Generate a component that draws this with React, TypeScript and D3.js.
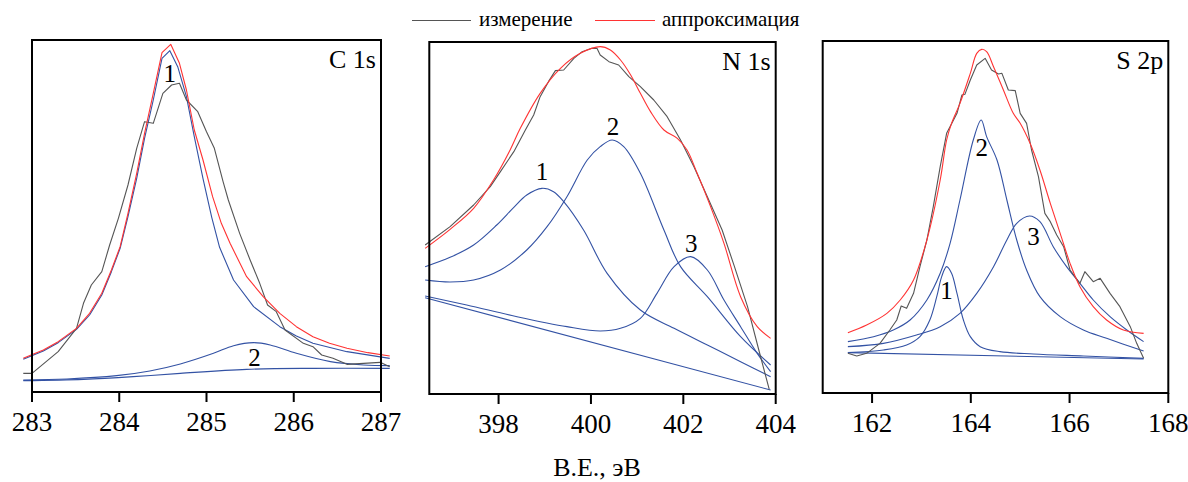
import { useEffect, useRef } from "react";
import * as d3 from "d3";

type Pt = [number, number];

const legendLabels = ["измерение", "аппроксимация"];
const axisTitle = "B.E., эВ";
const panelTitles = ["C 1s", "N 1s", "S 2p"];

// C 1s
const c1sTicks = [283, 284, 285, 286, 287];
const c1sMeasured: Pt[] = [
  [282.9, 5.6], [283.0, 5.6], [283.3, 12.1], [283.51, 19.1], [283.59, 26.6], [283.68, 32.1],
  [283.8, 36.1], [283.89, 44.1], [283.99, 52.1], [284.1, 62.1], [284.2, 73.1], [284.29, 81.1],
  [284.39, 80.6], [284.5, 89.6], [284.6, 92.1], [284.69, 92.6], [284.77, 87.6], [284.9, 84.1],
  [285.0, 78.1], [285.09, 73.1], [285.19, 63.1], [285.25, 57.6], [285.38, 47.6], [285.5, 39.6],
  [285.61, 32.6], [285.7, 26.1], [285.8, 24.1], [285.9, 18.6], [286.11, 14.6], [286.22, 13.6],
  [286.32, 11.1], [286.45, 10.1], [286.61, 8.3], [286.99, 8.9], [287.1, 7.6],
];
const c1sFit: Pt[] = [
  [282.9, 10.1], [283.13, 12.6], [283.3, 15.1], [283.51, 19.1], [283.66, 23.6], [283.8, 29.6],
  [283.91, 36.6], [284.01, 43.6], [284.1, 53.6], [284.2, 65.6], [284.29, 77.6], [284.39, 89.6],
  [284.49, 101.8], [284.59, 104.3], [284.69, 98.6], [284.77, 90.6], [284.86, 78.6], [284.96, 69.6],
  [285.07, 58.6], [285.17, 50.6], [285.27, 44.6], [285.46, 34.6], [285.65, 28.6], [285.84, 23.6],
  [286.03, 19.6], [286.22, 16.6], [286.41, 14.6], [286.61, 13.1], [286.85, 11.8], [287.1, 10.8],
];
const c1sPeak1: Pt[] = [
  [282.9, 9.8], [283.13, 12.3], [283.3, 14.8], [283.51, 18.8], [283.66, 23.1], [283.8, 29.1],
  [283.91, 36.1], [284.01, 43.1], [284.1, 52.6], [284.2, 64.1], [284.29, 76.1], [284.39, 87.6],
  [284.49, 100.1], [284.58, 102.4], [284.67, 97.6], [284.77, 88.6], [284.86, 76.6], [284.96, 64.0],
  [285.06, 52.4], [285.15, 43.4], [285.31, 33.6], [285.54, 25.6], [285.84, 19.6], [286.03, 16.8],
  [286.22, 14.6], [286.61, 12.1], [287.1, 10.1],
];
const c1sPeak2: Pt[] = [
  [282.9, 3.6], [283.4, 3.9], [283.97, 4.9], [284.35, 6.3], [284.7, 8.4], [285.08, 11.6],
  [285.31, 13.9], [285.54, 14.8], [285.73, 14.1], [286.03, 11.6], [286.42, 9.1], [286.8, 8.1],
  [287.1, 7.9],
];
const c1sBackground: Pt[] = [
  [282.9, 3.4], [283.59, 3.8], [284.16, 4.6], [284.7, 5.6], [285.46, 6.8], [286.22, 7.1],
  [287.1, 7.1],
];
const c1sLabels: [string, number, number][] = [["1", 284.58, 93.0], ["2", 285.55, 7.9]];

// N 1s
const n1sTicks = [398, 400, 402, 404];
const n1sMeasured: Pt[] = [
  [396.41, 44.7], [396.95, 50.2], [397.46, 56.7], [397.82, 62.2], [398.04, 66.7], [398.33, 72.7],
  [398.58, 79.2], [398.76, 83.7], [398.9, 89.2], [399.08, 93.7], [399.23, 97.0], [399.41, 97.2],
  [399.63, 100.7], [399.81, 102.7], [400.02, 103.7], [400.13, 103.7], [400.2, 101.7], [400.39, 99.7],
  [400.6, 98.7], [400.82, 95.2], [401.07, 92.2], [401.36, 88.2], [401.65, 83.2], [401.94, 76.2],
  [402.23, 68.2], [402.52, 59.2], [402.84, 49.2], [403.1, 38.5], [403.39, 26.2], [403.64, 12.9],
  [403.86, 1.4],
];
const n1sFit: Pt[] = [
  [396.41, 43.7], [396.95, 49.4], [397.46, 55.7], [397.89, 64.2], [398.25, 73.2], [398.47, 79.7],
  [398.9, 90.2], [399.34, 97.7], [399.77, 102.2], [400.2, 104.2], [400.42, 103.2], [400.64, 100.2],
  [400.86, 95.7], [401.07, 90.2], [401.29, 84.7], [401.58, 79.2], [401.87, 76.7], [402.08, 73.2],
  [402.3, 66.2], [402.59, 56.2], [402.88, 45.2], [403.24, 29.2], [403.6, 20.2], [403.89, 16.7],
];
const n1sPeak1: Pt[] = [
  [396.41, 38.2], [396.95, 41.0], [397.46, 44.7], [397.96, 50.7], [398.33, 56.0], [398.61, 59.7],
  [398.94, 61.7], [399.19, 60.7], [399.41, 57.7], [399.84, 49.2], [400.35, 36.2], [401.07, 25.2],
  [401.8, 19.7], [402.52, 14.7], [403.24, 9.7], [403.89, 5.2],
];
const n1sPeak2: Pt[] = [
  [396.41, 34.2], [396.95, 33.6], [397.46, 34.2], [398.04, 37.2], [398.61, 43.2], [399.05, 50.2],
  [399.48, 59.2], [399.92, 70.2], [400.2, 74.2], [400.46, 76.2], [400.71, 74.2], [401.07, 66.2],
  [401.58, 49.2], [401.94, 38.2], [402.52, 29.2], [403.24, 17.2], [403.89, 8.7],
];
const n1sPeak3: Pt[] = [
  [396.41, 29.4], [397.31, 26.7], [398.4, 23.2], [399.48, 20.2], [400.2, 18.9], [400.64, 19.7],
  [401.07, 22.7], [401.43, 30.2], [401.8, 38.2], [402.16, 41.2], [402.52, 37.2], [402.88, 28.2],
  [403.24, 20.2], [403.6, 12.2], [403.89, 6.7],
];
const n1sBackground: Pt[] = [[396.41, 28.9], [403.89, 1.2]];
const n1sLabels: [string, number, number][] = [
  ["1", 398.94, 64.2], ["2", 400.48, 77.7], ["3", 402.17, 42.7],
];

// S 2p
const s2pTicks = [162, 164, 166, 168];
const s2pMeasured: Pt[] = [
  [161.51, 11.9], [161.69, 11.1], [161.89, 11.9], [162.16, 14.9], [162.36, 18.9], [162.5, 21.9],
  [162.59, 26.1], [162.7, 25.4], [162.84, 29.9], [162.97, 37.9], [163.11, 45.9], [163.24, 55.9],
  [163.38, 67.9], [163.51, 77.9], [163.65, 81.9], [163.72, 83.9], [163.82, 89.4], [163.88, 89.6],
  [163.99, 93.9], [164.12, 98.4], [164.29, 100.4], [164.42, 96.9], [164.56, 95.7], [164.63, 95.9],
  [164.76, 90.9], [164.9, 90.7], [165.0, 83.9], [165.13, 80.9], [165.23, 72.9], [165.37, 64.9],
  [165.5, 53.9], [165.61, 51.4], [165.74, 47.4], [165.88, 43.9], [166.01, 36.9], [166.21, 32.9],
  [166.31, 36.4], [166.48, 33.4], [166.62, 34.4], [166.82, 29.9], [167.02, 25.9], [167.23, 19.9],
  [167.36, 14.9], [167.5, 10.4],
];
const s2pFit: Pt[] = [
  [161.51, 18.1], [161.89, 20.4], [162.3, 23.9], [162.57, 27.9], [162.84, 33.9], [163.11, 45.9],
  [163.38, 63.9], [163.51, 75.9], [163.61, 80.9], [163.78, 86.9], [163.99, 95.9], [164.12, 101.9],
  [164.22, 103.1], [164.32, 102.4], [164.46, 97.9], [164.66, 90.9], [164.86, 83.9], [165.0, 80.9],
  [165.2, 74.9], [165.4, 66.9], [165.61, 56.9], [165.81, 47.9], [166.01, 38.9], [166.21, 31.9],
  [166.48, 25.9], [166.75, 21.9], [167.09, 18.9], [167.5, 17.9],
];
const s2pPeak1: Pt[] = [
  [161.51, 12.1], [162.23, 12.9], [162.7, 14.4], [162.97, 16.9], [163.17, 21.9], [163.31, 28.9],
  [163.41, 34.9], [163.51, 37.9], [163.61, 35.9], [163.72, 29.9], [163.85, 21.9], [163.99, 16.9],
  [164.19, 13.9], [164.59, 12.4], [165.27, 11.7], [166.28, 11.1], [167.5, 10.4],
];
const s2pPeak2: Pt[] = [
  [161.51, 15.4], [162.03, 16.9], [162.43, 18.9], [162.77, 21.9], [163.11, 27.9], [163.38, 35.9],
  [163.58, 44.9], [163.78, 57.9], [164.05, 75.9], [164.21, 81.9], [164.32, 76.9], [164.53, 69.9],
  [164.73, 57.9], [164.93, 45.9], [165.13, 36.9], [165.4, 28.9], [165.81, 22.9], [166.28, 18.9],
  [166.75, 16.4], [167.5, 12.6],
];
const s2pPeak3: Pt[] = [
  [161.51, 13.9], [162.23, 14.9], [162.9, 17.4], [163.38, 19.9], [163.78, 23.9], [164.12, 29.9],
  [164.46, 37.9], [164.73, 45.9], [164.93, 50.9], [165.19, 53.1], [165.4, 51.4], [165.67, 43.9],
  [165.94, 37.9], [166.21, 32.9], [166.48, 27.9], [166.82, 22.9], [167.16, 18.9], [167.5, 15.4],
];
const s2pBackground: Pt[] = [[161.51, 12.1], [167.5, 10.2]];
const s2pLabels: [string, number, number][] = [
  ["1", 163.51, 28.1], ["2", 164.22, 71.2], ["3", 165.27, 44.4],
];

const yDomain = [0, 105.6];

// sharp: series drawn with straight segments (pointed apex as in the source)
const panels = [
  {
    title: panelTitles[0], ticks: c1sTicks, xDomain: [283, 287], box: [32, 381, 40],
    measured: c1sMeasured, fit: c1sFit, peaks: [c1sPeak1, c1sPeak2], background: c1sBackground,
    labels: c1sLabels, sharp: [true, true, false],
  },
  {
    title: panelTitles[1], ticks: n1sTicks, xDomain: [396.5, 404], box: [429.3, 775.7, 42],
    measured: n1sMeasured, fit: n1sFit, peaks: [n1sPeak1, n1sPeak2, n1sPeak3], background: n1sBackground,
    labels: n1sLabels, sharp: [false, false, false, false],
  },
  {
    title: panelTitles[2], ticks: s2pTicks, xDomain: [161, 168], box: [822.7, 1168.3, 41],
    measured: s2pMeasured, fit: s2pFit, peaks: [s2pPeak1, s2pPeak2, s2pPeak3], background: s2pBackground,
    labels: s2pLabels, sharp: [false, false, false, false],
  },
];

const GRAY = "#555555";
const RED = "#ff3333";
const BLUE = "#3352a4";
const FONT = "'Liberation Serif', 'Times New Roman', serif";

export default function App() {
  const ref = useRef<SVGSVGElement>(null);

  useEffect(() => {
    const svg = d3.select(ref.current);
    svg.selectAll("*").remove();
    const height = 352;

    panels.forEach((p) => {
      const [left, right, top] = p.box;
      const bottom = top + height;
      const x = d3.scaleLinear().domain(p.xDomain).range([left, right]);
      const y = d3.scaleLinear().domain(yDomain).range([bottom, top]);
      const g = svg.append("g");

      const smooth = d3.line<Pt>().x((d) => x(d[0])).y((d) => y(d[1]))
        .curve(d3.curveCatmullRom.alpha(0.5));
      const straight = d3.line<Pt>().x((d) => x(d[0])).y((d) => y(d[1]));

      const draw = (data: Pt[], color: string, sharp: boolean) =>
        g.append("path").attr("d", (sharp ? straight : smooth)(data)).attr("fill", "none")
          .attr("stroke", color).attr("stroke-width", 1.1).attr("stroke-linejoin", "round");

      draw(p.background, BLUE, false);
      p.peaks.forEach((pk, i) => draw(pk, BLUE, p.sharp[i + 1]));
      draw(p.measured, GRAY, true);
      draw(p.fit, RED, p.sharp[0]);

      g.append("rect").attr("x", left).attr("y", top)
        .attr("width", right - left).attr("height", height)
        .attr("fill", "none").attr("stroke", "#000").attr("stroke-width", 2);

      const axis = g.append("g");
      axis.selectAll("line").data(p.ticks).enter().append("line")
        .attr("x1", (d) => x(d)).attr("x2", (d) => x(d))
        .attr("y1", bottom).attr("y2", bottom + 10)
        .attr("stroke", "#000").attr("stroke-width", 2);
      axis.selectAll("text").data(p.ticks).enter().append("text")
        .attr("x", (d) => x(d)).attr("y", bottom + 39)
        .attr("text-anchor", "middle").attr("font-size", 27)
        .attr("font-family", FONT).text((d) => d);

      g.append("text").attr("x", right - 5).attr("y", top + 28)
        .attr("text-anchor", "end").attr("font-size", 26)
        .attr("font-family", FONT).text(p.title);

      g.selectAll(".peak-label").data(p.labels).enter().append("text")
        .attr("class", "peak-label")
        .attr("x", (d) => x(d[1])).attr("y", (d) => y(d[2]))
        .attr("text-anchor", "middle").attr("font-size", 25)
        .attr("font-family", FONT).text((d) => d[0]);
    });

    const legend = svg.append("g").attr("font-family", FONT).attr("font-size", 21);
    legend.append("line").attr("x1", 412).attr("x2", 471).attr("y1", 20.5).attr("y2", 20.5)
      .attr("stroke", GRAY).attr("stroke-width", 1.1);
    legend.append("text").attr("x", 479).attr("y", 26).text(legendLabels[0]);
    legend.append("line").attr("x1", 595).attr("x2", 655).attr("y1", 20.5).attr("y2", 20.5)
      .attr("stroke", RED).attr("stroke-width", 1.1);
    legend.append("text").attr("x", 662).attr("y", 26).text(legendLabels[1]);

    svg.append("text").attr("x", 597).attr("y", 476).attr("text-anchor", "middle")
      .attr("font-family", FONT).attr("font-size", 26).text(axisTitle);
  }, []);

  return (
    <svg ref={ref} width={1188} height={482}
      style={{ position: "absolute", left: 0, top: 0, background: "#fff" }} />
  );
}
